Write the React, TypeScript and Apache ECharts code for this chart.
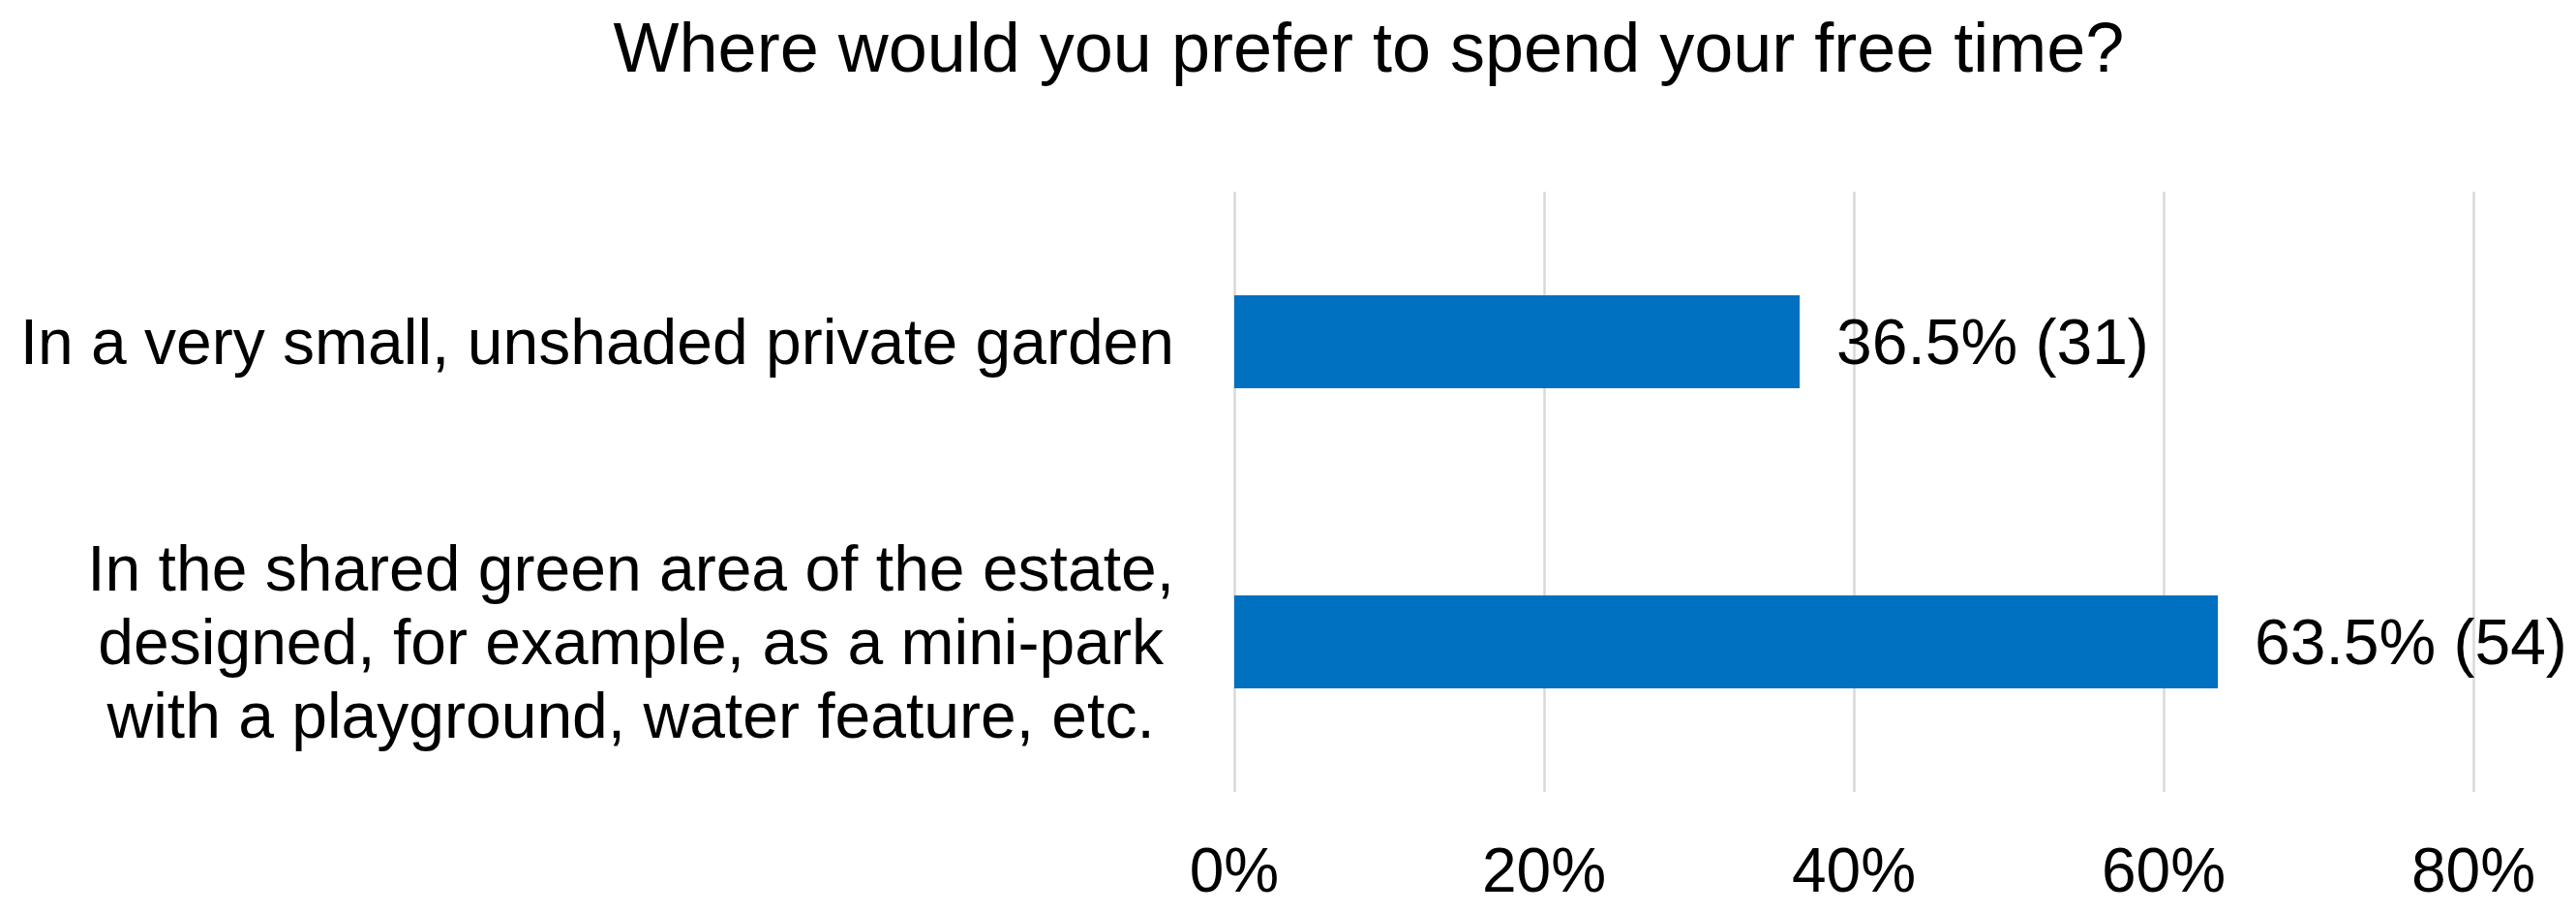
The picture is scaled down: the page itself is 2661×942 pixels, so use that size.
import React, { useEffect, useRef } from "react";
import * as echarts from "echarts";

const titleText = "Where would you prefer to spend your free time?";
const categories = [
  "In a very small, unshaded private garden",
  "In the shared green area of the estate,\ndesigned, for example, as a mini-park\nwith a playground, water feature, etc.",
];
const percentValues = [36.5, 63.5];
const counts = [31, 54];
const xTicks = { min: 0, max: 80, interval: 20 };

const FONT = "'Liberation Sans', Arial, sans-serif";

export default function App() {
  const ref = useRef<HTMLDivElement>(null);
  useEffect(() => {
    if (!ref.current) return;
    const chart = echarts.init(ref.current, null, { renderer: "svg" });
    chart.setOption({
      animation: false,
      backgroundColor: "#ffffff",
      title: {
        text: titleText,
        left: 1414,
        top: 13,
        textAlign: "center",
        padding: 0,
        textStyle: {
          fontFamily: FONT,
          fontSize: 72,
          lineHeight: 72,
          fontWeight: "normal",
          color: "#000000",
        },
      },
      grid: { left: 1275, right: 106, top: 198, bottom: 124, containLabel: false },
      xAxis: {
        type: "value",
        min: xTicks.min,
        max: xTicks.max,
        interval: xTicks.interval,
        axisLine: { show: false },
        axisTick: { show: false },
        splitLine: { show: true, lineStyle: { color: "#d9d9d9", width: 2.5 } },
        axisLabel: {
          formatter: "{value}%",
          fontFamily: FONT,
          fontSize: 64,
          lineHeight: 66,
          color: "#000000",
          margin: 48,
        },
      },
      yAxis: {
        type: "category",
        inverse: true,
        data: categories,
        axisLine: { show: false },
        axisTick: { show: false },
        splitLine: { show: false },
        axisLabel: {
          margin: 62,
          fontFamily: FONT,
          fontSize: 66,
          lineHeight: 76,
          color: "#000000",
          formatter: (v: string) =>
            v
              .split("\n")
              .map((l) => "{c|" + l + "}")
              .join("\n"),
          rich: {
            c: {
              align: "center",
              fontFamily: FONT,
              fontSize: 66,
              lineHeight: 76,
              color: "#000000",
            },
          },
        },
      },
      series: [
        {
          type: "bar",
          data: percentValues,
          barWidth: 96,
          itemStyle: { color: "#0070C0" },
          label: {
            show: true,
            position: "right",
            distance: 38,
            fontFamily: FONT,
            fontSize: 66,
            color: "#000000",
            formatter: (p: any) =>
              percentValues[p.dataIndex].toFixed(1) + "% (" + counts[p.dataIndex] + ")",
          },
        },
      ],
    });
    return () => chart.dispose();
  }, []);
  return (
    <div
      ref={ref}
      style={{ position: "absolute", left: 0, top: 0, width: 2661, height: 942 }}
    />
  );
}
